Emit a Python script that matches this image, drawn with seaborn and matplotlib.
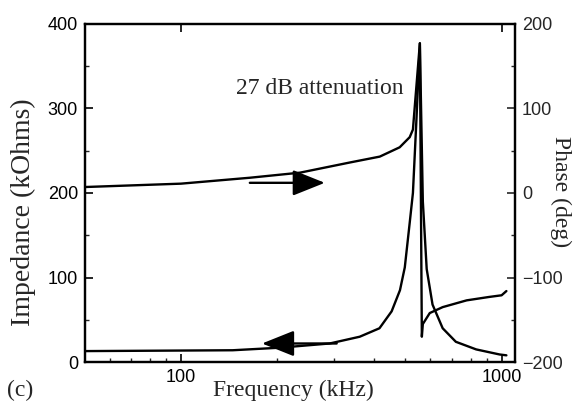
import numpy as np
import pandas as pd
import matplotlib
matplotlib.use("Agg")
import matplotlib.pyplot as plt
import matplotlib.ticker as mticker
import seaborn as sns

# ---- data ----
imp_freq = [50, 145, 203, 291, 361, 416, 454, 482, 499, 517, 529, 543, 556,
            568, 584, 609, 655, 720, 833, 986, 1035]
imp_vals = [13, 14, 17, 22, 30, 40, 60, 85, 112, 165, 200, 290, 377,
            190, 110, 68, 40, 24, 15, 9, 8]

phase_freq = [50, 100, 164, 235, 336, 417, 481, 517, 529, 556,
              564, 568, 597, 655, 778, 913, 1000, 1035]
phase_vals = [7, 11, 18, 24, 36, 43, 54, 66, 75, 177,
              -170, -155, -142, -135, -127, -123, -121, -116]

x_ticks = [100, 1000]
x_tick_labels = ["100", "1000"]
imp_ticks = [0, 100, 200, 300, 400]
phase_ticks = [-200, -100, 0, 100, 200]

df_imp = pd.DataFrame({"freq": imp_freq, "val": imp_vals})
df_ph = pd.DataFrame({"freq": phase_freq, "val": phase_vals})

sns.set_style("ticks")
serif = ["Liberation Serif", "DejaVu Serif"]
sans = ["Liberation Sans", "DejaVu Sans"]
plt.rcParams["font.family"] = sans

fig = plt.figure(figsize=(5.74, 4.11), dpi=100)
ax = fig.add_axes([0.148, 0.119, 0.749, 0.823])
ax2 = ax.twinx()

sns.lineplot(data=df_imp, x="freq", y="val", ax=ax, color="black", lw=1.7,
             sort=False, estimator=None)
sns.lineplot(data=df_ph, x="freq", y="val", ax=ax2, color="black", lw=1.7,
             sort=False, estimator=None)

ax.set_xscale("log")
ax.set_xlim(50.2, 1100)
ax.set_ylim(0, 400)
ax2.set_ylim(-200, 200)

ax.xaxis.set_major_locator(mticker.FixedLocator(x_ticks))
ax.xaxis.set_major_formatter(mticker.FixedFormatter(x_tick_labels))
ax.xaxis.set_minor_locator(mticker.LogLocator(base=10, subs=np.arange(2, 10)))
ax.xaxis.set_minor_formatter(mticker.NullFormatter())
ax.set_yticks(imp_ticks)
ax.yaxis.set_minor_locator(mticker.MultipleLocator(50))
ax2.set_yticks(phase_ticks)
ax2.yaxis.set_minor_locator(mticker.MultipleLocator(50))

for a in (ax, ax2):
    for s in a.spines.values():
        s.set_linewidth(1.6)
        s.set_visible(True)
        s.set_color("black")

ax.tick_params(axis="both", which="major", direction="in", length=6, width=1.2,
               labelsize=13, pad=5, colors="black")
ax.tick_params(axis="both", which="minor", direction="in", length=3, width=1.0)
ax.tick_params(axis="x", which="major", top=True)
ax.tick_params(axis="x", which="minor", top=False)
ax.tick_params(axis="y", which="both", right=False)
ax2.tick_params(axis="y", which="major", direction="in", length=6, width=1.2,
                labelsize=13, pad=5)
ax2.tick_params(axis="y", which="minor", direction="in", length=3, width=1.0)

ax.set_xlabel("Frequency (kHz)", family=serif, fontsize=17, va="center")
ax.xaxis.set_label_coords(0.484, -0.083)
ax.set_ylabel("Impedance (kOhms)", family=serif, fontsize=20, va="center")
ax.yaxis.set_label_coords(-0.144, 0.444)
ax2.set_ylabel("Phase (deg)", family=serif, fontsize=17, rotation=270,
               va="center", ha="center")
ax2.yaxis.set_label_coords(1.107, 0.503)

ax.text(271, 323, "27 dB attenuation", family=serif, fontsize=17,
        ha="center", va="center")

arrow = dict(arrowstyle="-|>,head_length=1.0,head_width=0.4", lw=1.7,
             color="black", mutation_scale=20, shrinkA=0, shrinkB=0)
ax2.annotate("", xy=(281, 12), xytext=(164, 12), arrowprops=arrow)
ax.annotate("", xy=(179, 22), xytext=(306, 22), arrowprops=arrow)

fig.text(0.012, 0.051, "(c)", family=serif, fontsize=17, ha="left", va="center")

fig.savefig("out.png", dpi=100)
